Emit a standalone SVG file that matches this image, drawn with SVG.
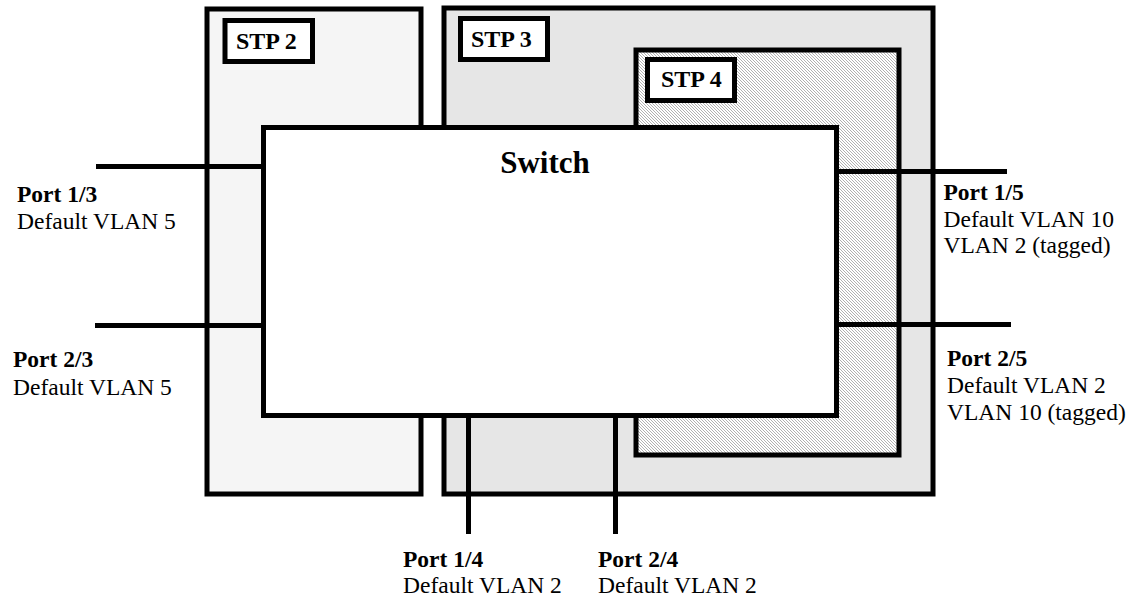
<svg xmlns="http://www.w3.org/2000/svg" width="1136" height="599" viewBox="0 0 1136 599">
  <style>
    .box { stroke: #000; stroke-width: 5; }
    .lbl { fill: #fff; stroke: #000; stroke-width: 5; }
    .conn { stroke: #000; stroke-width: 5; fill: none; }
    .t { font-family: "Liberation Serif", serif; font-size: 23.5px; fill: #000; }
    .b { font-weight: bold; }
    .stp { font-family: "Liberation Serif", serif; font-size: 24px; font-weight: bold; fill: #000; }
  </style>
  <defs>
    <pattern id="hatch" patternUnits="userSpaceOnUse" width="3" height="3">
      <rect width="3" height="3" fill="#ffffff"/>
      <path d="M-1,-1 L4,4 M-1,2 L1,4 M2,-1 L4,1" stroke="#a8a8a8" stroke-width="0.9"/>
    </pattern>
  </defs>
  <rect width="1136" height="599" fill="#ffffff"/>

  <g id="stp2">
    <rect class="box" x="207" y="9" width="214" height="485" fill="#f5f5f5"/>
    <rect class="lbl" x="225" y="20.5" width="87.5" height="41"/>
    <text class="stp" x="236" y="48.5">STP 2</text>
  </g>

  <g id="stp3">
    <rect class="box" x="444" y="8" width="489" height="486" fill="#e6e6e6"/>
    <rect class="lbl" x="460.5" y="18.5" width="87" height="41"/>
    <text class="stp" x="471" y="47">STP 3</text>
  </g>

  <g id="stp4">
    <rect class="box" x="636" y="50" width="263" height="405" fill="url(#hatch)"/>
    <rect class="lbl" x="647.5" y="59.5" width="87" height="41"/>
    <text class="stp" x="661" y="87">STP 4</text>
  </g>

  <g id="connectors">
    <line class="conn" x1="96" y1="166.5" x2="264" y2="166.5"/>
    <line class="conn" x1="95" y1="325.5" x2="264" y2="325.5"/>
    <line class="conn" x1="836" y1="171.5" x2="1007" y2="171.5"/>
    <line class="conn" x1="836" y1="324.5" x2="1011" y2="324.5"/>
    <line class="conn" x1="468.5" y1="415" x2="468.5" y2="534"/>
    <line class="conn" x1="615.5" y1="412" x2="615.5" y2="534"/>
  </g>

  <g id="switch">
    <rect class="box" x="263.5" y="127.5" width="573" height="288" fill="#ffffff"/>
    <text class="t b" x="545" y="173" text-anchor="middle" style="font-size:31px">Switch</text>
  </g>

  <g id="port13">
    <text class="t b" x="17" y="201.5">Port 1/3</text>
    <text class="t" x="17" y="228.5">Default VLAN 5</text>
  </g>
  <g id="port23">
    <text class="t b" x="13" y="367">Port 2/3</text>
    <text class="t" x="13" y="394.5">Default VLAN 5</text>
  </g>
  <g id="port15">
    <text class="t b" x="943.5" y="200">Port 1/5</text>
    <text class="t" x="943.5" y="226.5">Default VLAN 10</text>
    <text class="t" x="943.5" y="253">VLAN 2 (tagged)</text>
  </g>
  <g id="port25">
    <text class="t b" x="947" y="365.5">Port 2/5</text>
    <text class="t" x="947" y="392.5">Default VLAN 2</text>
    <text class="t" x="947" y="419.5">VLAN 10 (tagged)</text>
  </g>
  <g id="port14">
    <text class="t b" x="403" y="566.5">Port 1/4</text>
    <text class="t" x="403" y="593">Default VLAN 2</text>
  </g>
  <g id="port24">
    <text class="t b" x="598" y="566.5">Port 2/4</text>
    <text class="t" x="598" y="593">Default VLAN 2</text>
  </g>
</svg>
